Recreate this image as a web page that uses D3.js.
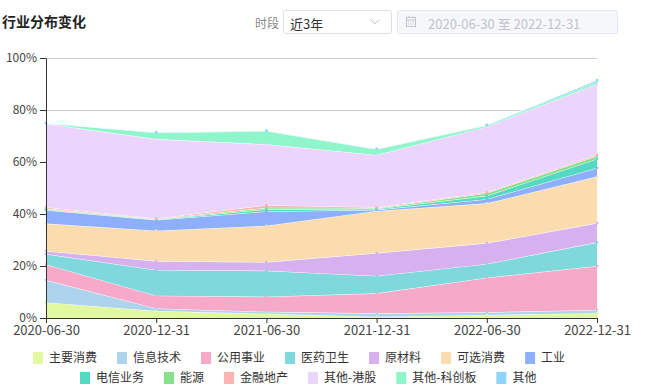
<!DOCTYPE html>
<html>
<head>
<meta charset="utf-8">
<script src="https://cdn.jsdelivr.net/npm/d3@7"></script>
<style>
  body { margin: 0; background: #fff; font-family: "Noto Sans CJK SC", "Noto Sans", sans-serif; }
  #wrap { position: relative; width: 648px; height: 390px; overflow: hidden; }
  #title { position: absolute; left: 2px; top: 11px; font-size: 14px; font-weight: bold; color: #222; }
  #periodLabel { position: absolute; left: 255px; top: 14px; font-size: 12px; color: #888; }
  #period { position: absolute; left: 283px; top: 10px; width: 107px; height: 22px; border: 1px solid #dcdfe6; border-radius: 3px; font-size: 13px; color: #333; }
  #period span { position: absolute; left: 6px; top: 3px; }
  #period svg { position: absolute; left: 86px; top: 8px; }
  #range { position: absolute; left: 397px; top: 10px; width: 219px; height: 22px; border: 1px solid #e4e7ed; border-radius: 3px; background: #f5f7fa; font-size: 13px; color: #c0c4cc; }
  #range span { position: absolute; left: 30px; top: 3px; white-space: nowrap; }
  #range svg { position: absolute; left: 8px; top: 5px; }
  #chart { position: absolute; left: 0; top: 0; }
</style>
</head>
<body>
<div id="wrap">
  <div id="title">行业分布变化</div>
  <div id="periodLabel">时段</div>
  <div id="period"><span>近3年</span>
    <svg width="10" height="6"><path d="M0.5,0.5 L5,5 L9.5,0.5" fill="none" stroke="#c0c4cc" stroke-width="1"/></svg>
  </div>
  <div id="range">
    <svg width="10" height="11"><rect x="0.5" y="1.5" width="9" height="9" fill="none" stroke="#c0c4cc"/><line x1="0.5" y1="4" x2="9.5" y2="4" stroke="#c0c4cc"/><line x1="3" y1="0" x2="3" y2="2" stroke="#c0c4cc"/><line x1="7" y1="0" x2="7" y2="2" stroke="#c0c4cc"/><path d="M2,6h1M4.5,6h1M7,6h1M2,8h1M4.5,8h1M7,8h1" stroke="#c0c4cc"/></svg>
    <span>2020-06-30 至 2022-12-31</span>
  </div>
  <svg id="chart" width="648" height="390"></svg>
</div>
<script>
const dates = ["2020-06-30", "2020-12-31", "2021-06-30", "2021-12-31", "2022-06-30", "2022-12-31"];
const yTicks = [0, 0.2, 0.4, 0.6, 0.8, 1];

const industries = ["主要消费", "信息技术", "公用事业", "医药卫生", "原材料", "可选消费", "工业",
  "电信业务", "能源", "金融地产", "其他-港股", "其他-科创板", "其他"];
const colors = ["#e1f7a0", "#aed4ed", "#f6a9c9", "#7fd8dc", "#d7b1ef", "#fadcae", "#8eaffb",
  "#55d9c2", "#87e18c", "#fdb3b0", "#ecd5fd", "#8ff5cb", "#8ed3fb"];

// weights in %, one value per date
const stapleValues   = [6.0, 2.7, 1.6, 0.5, 1.2, 1.8];
const itValues       = [8.6, 1.0, 0.8, 1.3, 1.0, 1.3];
const utilityValues  = [6.0, 4.9, 5.8, 7.7, 13.3, 16.9];
const healthValues   = [4.0, 9.9, 10.0, 6.7, 5.3, 9.1];
const materialValues = [1.2, 3.4, 3.3, 8.8, 8.0, 7.4];
const discretValues  = [10.5, 11.7, 14.0, 16.2, 15.3, 17.9];
const industryValues = [5.2, 4.1, 5.5, 0.4, 1.6, 3.3];
const telecomValues  = [0.3, 0.2, 0.8, 0.4, 1.3, 3.5];
const energyValues   = [0.3, 0.2, 0.6, 0.3, 1.0, 1.1];
const financeValues  = [0.5, 0.2, 1.0, 0.3, 0.4, 0.5];
const hkValues       = [32.1, 30.5, 23.4, 20.1, 25.2, 27.2];
const starValues     = [0.2, 2.5, 5.1, 2.2, 0.5, 0.9];
const otherValues    = [0.1, 0.2, 0.2, 0.2, 0.2, 0.6];

const allValues = [stapleValues, itValues, utilityValues, healthValues, materialValues, discretValues,
  industryValues, telecomValues, energyValues, financeValues, hkValues, starValues, otherValues];

const table = dates.map((date, i) => {
  const row = { date };
  industries.forEach((name, k) => { row[name] = allValues[k][i] / 100; });
  return row;
});

const svg = d3.select("#chart");
const x = d3.scalePoint().domain(dates).range([46, 597]);
const y = d3.scaleLinear().domain([0, 1]).range([318, 58]);
const color = d3.scaleOrdinal().domain(industries).range(colors);

// grid
svg.append("g")
  .selectAll("line")
  .data(yTicks.slice(1))
  .join("line")
    .attr("x1", x.range()[0])
    .attr("x2", x.range()[1])
    .attr("y1", d => Math.round(y(d)) + 0.5)
    .attr("y2", d => Math.round(y(d)) + 0.5)
    .attr("stroke", "#ccc");

const stacked = d3.stack().keys(industries)(table);

const area = d3.area()
  .x(d => x(d.data.date))
  .y0(d => y(d[0]))
  .y1(d => y(d[1]));
const topLine = d3.line()
  .x(d => x(d.data.date))
  .y(d => y(d[1]));

const layers = svg.append("g")
  .selectAll("g")
  .data(stacked)
  .join("g");
layers.append("path")
  .attr("d", area)
  .attr("fill", d => color(d.key));
layers.append("path")
  .attr("d", topLine)
  .attr("fill", "none")
  .attr("stroke", "#fff")
  .attr("stroke-width", 1);

// tiny point markers
svg.append("g")
  .selectAll("g")
  .data(stacked)
  .join("g")
    .attr("fill", d => color(d.key))
  .selectAll("circle")
  .data(d => d)
  .join("circle")
    .attr("cx", d => x(d.data.date))
    .attr("cy", d => y(d[1]))
    .attr("r", 1.3);

// axes
const yAxis = svg.append("g")
  .attr("transform", `translate(${x.range()[0]},0)`)
  .call(d3.axisLeft(y).tickValues(yTicks).tickFormat(d3.format(".0%")).tickSize(6).tickSizeOuter(0).tickPadding(3));
const xAxis = svg.append("g")
  .attr("transform", `translate(0,${y(0)})`)
  .call(d3.axisBottom(x).tickSize(5).tickSizeOuter(0).tickPadding(3));

[yAxis, xAxis].forEach(g => {
  g.selectAll("path, line").attr("stroke", "#333");
  g.selectAll("text").attr("fill", "#444").style("font-family", '"Noto Sans CJK SC", sans-serif');
});
yAxis.selectAll("text").style("font-size", "12px");
xAxis.selectAll("text").style("font-size", "13px");

// legend
const rows = [industries.slice(0, 7), industries.slice(7)];
const rowStart = [33, 80];
const rowY = [358, 378];
rows.forEach((names, r) => {
  let cx = rowStart[r];
  names.forEach(name => {
    const g = svg.append("g").attr("transform", `translate(${cx},${rowY[r]})`);
    g.append("rect")
      .attr("x", 0).attr("y", -6)
      .attr("width", 10).attr("height", 12)
      .attr("fill", color(name));
    const t = g.append("text")
      .attr("x", 16).attr("y", 0)
      .attr("dy", "0.35em")
      .attr("fill", "#333")
      .style("font-size", "12px")
      .text(name);
    cx += 16 + t.node().getComputedTextLength() + 20;
  });
});
</script>
</body>
</html>
